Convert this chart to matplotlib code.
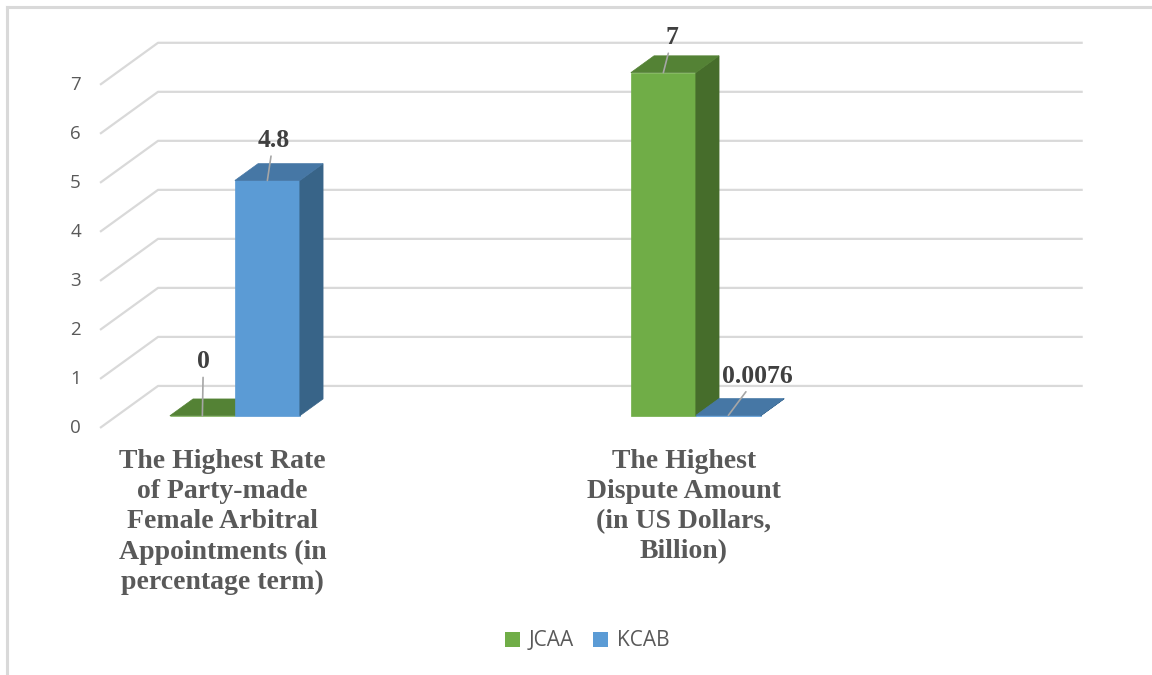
import matplotlib.pyplot as plt
from matplotlib.patches import Polygon, Patch
from matplotlib.lines import Line2D

categories = [
    "The Highest Rate\nof Party-made\nFemale Arbitral\nAppointments (in\npercentage term)",
    "The Highest\nDispute Amount\n(in US Dollars,\nBillion)",
]
series_names = ["JCAA", "KCAB"]
jcaa = [0, 7]
kcab = [4.8, 0.0076]
value_labels = [["0", "7"], ["4.8", "0.0076"]]
y_ticks = [0, 1, 2, 3, 4, 5, 6, 7]

# colours: front, side, top
colors = {
    "JCAA": ("#70ad47", "#466d2b", "#548235"),
    "KCAB": ("#5b9bd5", "#386488", "#4677a5"),
}

# pseudo 3d layout
DX, DY = 0.1258, 0.857      # wall depth offset (category units, value units)
D0, D1 = 0.29, 0.69         # bar front / back depth
BAR_W = 0.141
X_LEFT, X_RIGHT = -0.256, 1.75
GRID_C = "#d9d9d9"


def proj(x, v, d):
    return (x + d * DX, v + d * DY)


fig = plt.figure(figsize=(11.52, 6.75), dpi=100)
ax = fig.add_axes([0, 0, 1, 1])
ax.set_xlim(-0.473, 2.026)
ax.set_ylim(-5.04, 8.73)
ax.axis("off")

# figure border (top and left only visible)
fig.add_artist(Line2D([7 / 1152, 1], [1 - 7 / 675, 1 - 7 / 675], color="#d9d9d9", lw=2.2,
                      transform=fig.transFigure))
fig.add_artist(Line2D([7 / 1152, 7 / 1152], [0, 1 - 7 / 675], color="#d9d9d9", lw=2.2,
                      transform=fig.transFigure))

# gridlines on side wall + back wall
for t in y_ticks:
    pts = [proj(X_LEFT, t, 0), proj(X_LEFT, t, 1), proj(X_RIGHT, t, 1)]
    ax.plot([p[0] for p in pts], [p[1] for p in pts], color=GRID_C, lw=1.6,
            solid_capstyle="butt", zorder=1)
    ax.text(X_LEFT - 0.053, t, str(t), ha="center", va="center",
            fontsize=13.5, color="#595959", family="Open Sans")


def draw_bar(x0, v, name):
    front, side, top = colors[name]
    x1 = x0 + BAR_W
    faces = [
        ([proj(x0, 0, D0), proj(x1, 0, D0), proj(x1, v, D0), proj(x0, v, D0)], front),
        ([proj(x1, 0, D0), proj(x1, 0, D1), proj(x1, v, D1), proj(x1, v, D0)], side),
        ([proj(x0, v, D0), proj(x1, v, D0), proj(x1, v, D1), proj(x0, v, D1)], top),
    ]
    for pts, c in faces:
        ax.add_patch(Polygon(pts, closed=True, facecolor=c, edgecolor=c, lw=0.5, zorder=3))


label_offsets = [[(1, 54), (9, 35)], [(6, 40), (29, 39)]]

for i in range(len(categories)):
    for s, (name, vals) in enumerate(zip(series_names, [jcaa, kcab])):
        x0 = i - BAR_W + s * BAR_W
        v = vals[i]
        draw_bar(x0, v, name)
        anchor = proj(x0 + BAR_W / 2, v, D0)
        ox, oy = label_offsets[s][i]
        ax.annotate(value_labels[s][i], xy=anchor, xytext=(ox, oy), textcoords="offset pixels",
                    ha="center", va="center", fontsize=18.5, fontweight="bold",
                    family="Liberation Serif", color="#404040", zorder=5,
                    arrowprops=dict(arrowstyle="-", color="#a6a6a6", lw=1.2,
                                    shrinkA=1, shrinkB=0))

for i, cat in enumerate(categories):
    ax.text(i + 0.01, -0.43, cat, ha="center", va="top", fontsize=20, fontweight="bold",
            family="Liberation Serif", color="#595959", linespacing=1.27)

handles = [Patch(facecolor=colors[n][0], edgecolor="none") for n in series_names]
fig.legend(handles, series_names, loc="center", bbox_to_anchor=(587 / 1152, 1 - 641 / 675),
           ncol=2, frameon=False, handlelength=0.75, handleheight=0.75,
           handletextpad=0.4, columnspacing=0.9, labelcolor="#595959",
           prop={"family": "Open Sans", "size": 15})

fig.savefig("out.png", dpi=100)
